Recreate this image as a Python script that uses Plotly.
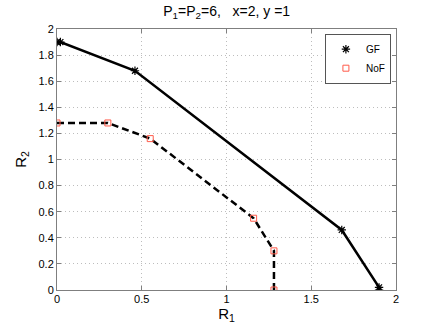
import plotly.graph_objects as go

# GF region boundary
gf_r1 = [0, 0.02, 0.46, 1.68, 1.9, 1.9]
gf_r2 = [1.9, 1.9, 1.68, 0.46, 0.02, 0]

# NoF region boundary
nof_r1 = [0, 0.3, 0.55, 1.16, 1.28, 1.28]
nof_r2 = [1.28, 1.28, 1.16, 0.55, 0.3, 0]

x_ticks = [0, 0.5, 1, 1.5, 2]
y_ticks = [0, 0.2, 0.4, 0.6, 0.8, 1, 1.2, 1.4, 1.6, 1.8, 2]

fig = go.Figure()

# lineas
fig.add_trace(go.Scatter(x=gf_r1, y=gf_r2, mode='lines',
                         line=dict(color='black', width=2.5),
                         showlegend=False, hoverinfo='skip'))
fig.add_trace(go.Scatter(x=nof_r1, y=nof_r2, mode='lines',
                         line=dict(color='black', width=2.5, dash='7px,4px'),
                         showlegend=False, hoverinfo='skip'))

# marcadores
fig.add_trace(go.Scatter(x=gf_r1, y=gf_r2, mode='markers', name='GF',
                         marker=dict(symbol='asterisk-open', size=7, color='black',
                                     line=dict(color='black', width=1.2))))
fig.add_trace(go.Scatter(x=nof_r1, y=nof_r2, mode='markers', name='NoF',
                         marker=dict(symbol='square-open', size=6, color='#ff5a4a',
                                     line=dict(color='#ff5a4a', width=1))))

axis_style = dict(
    showline=True, linecolor='#7f7f7f', linewidth=1, mirror='ticks',
    ticks='inside', ticklen=4, tickcolor='#7f7f7f',
    showgrid=True, gridcolor='#bdbdbd', griddash='1px,3px', gridwidth=1,
    zeroline=False, tickfont=dict(size=11, color='black'),
)

fig.update_layout(
    width=436, height=328,
    margin=dict(l=57, r=40, t=29, b=38),
    paper_bgcolor='white', plot_bgcolor='white',
    font=dict(family='Liberation Sans, Arial, sans-serif', color='black'),
    hovermode=False,
    title=dict(text='P<sub>1</sub>=P<sub>2</sub>=6,   x=2, y =1',
               x=0.52, xanchor='center', y=0.98, yanchor='top',
               font=dict(size=14)),
    xaxis=dict(range=[0, 2], tickvals=x_ticks, ticktext=[str(v) for v in x_ticks],
               ticklabelstandoff=-1,
               title=dict(text='R<sub>1</sub>', font=dict(size=15), standoff=0),
               **axis_style),
    yaxis=dict(range=[0, 2], tickvals=y_ticks, ticktext=[f'{v:g}' for v in y_ticks],
               title=dict(text='R<sub>2</sub>', font=dict(size=15), standoff=8),
               **axis_style),
    legend=dict(x=0.985, y=0.982, xanchor='right', yanchor='top',
                bgcolor='white', bordercolor='#555555', borderwidth=1,
                font=dict(size=10), tracegroupgap=0, itemwidth=30,
                itemclick=False),
    showlegend=True,
)

# quitar el margen del body para que el grafico quede en (0,0)
fig.write_html("out.html", config={'displayModeBar': False},
               post_script="document.body.style.margin='0';")
